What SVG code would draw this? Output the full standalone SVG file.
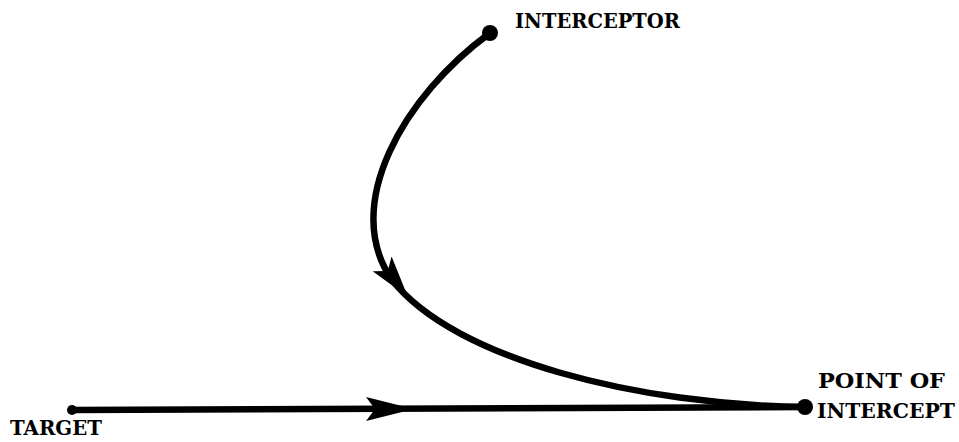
<svg xmlns="http://www.w3.org/2000/svg" width="959" height="442" viewBox="0 0 959 442">
<style>
.lbl{font-family:"DejaVu Serif","Liberation Serif",serif;font-weight:bold;font-size:21px;fill:#000}
.path{fill:none;stroke:#000;stroke-width:6.5;stroke-linecap:round}
.dot{fill:#000}
.head{fill:#000}
</style>
<rect width="959" height="442" fill="#fff"/>
<g id="connectors">
<path class="path" d="M72,410 L805,407"/>
<polygon class="head" points="414,409 366,397 375,409 366,421"/>
<path class="path" d="M490,33 C405,95 340,205 392,280 C455,360 640,405 805,407"/>
<polygon class="head" transform="translate(408,297) rotate(52)" points="0,0 -42,-12 -33,0 -42,12"/>
</g>
<g id="interceptor">
<circle class="dot" cx="490" cy="33" r="8"/>
<text class="lbl" x="515" y="28" textLength="165" lengthAdjust="spacingAndGlyphs">INTERCEPTOR</text>
</g>
<g id="target">
<circle class="dot" cx="72" cy="410" r="5"/>
<text class="lbl" x="10" y="435" textLength="92" lengthAdjust="spacingAndGlyphs">TARGET</text>
</g>
<g id="point-of-intercept">
<circle class="dot" cx="805" cy="407" r="8"/>
<text class="lbl" x="818" y="388" textLength="127" lengthAdjust="spacingAndGlyphs">POINT OF</text>
<text class="lbl" x="817" y="418" textLength="138" lengthAdjust="spacingAndGlyphs">INTERCEPT</text>
</g>
</svg>
